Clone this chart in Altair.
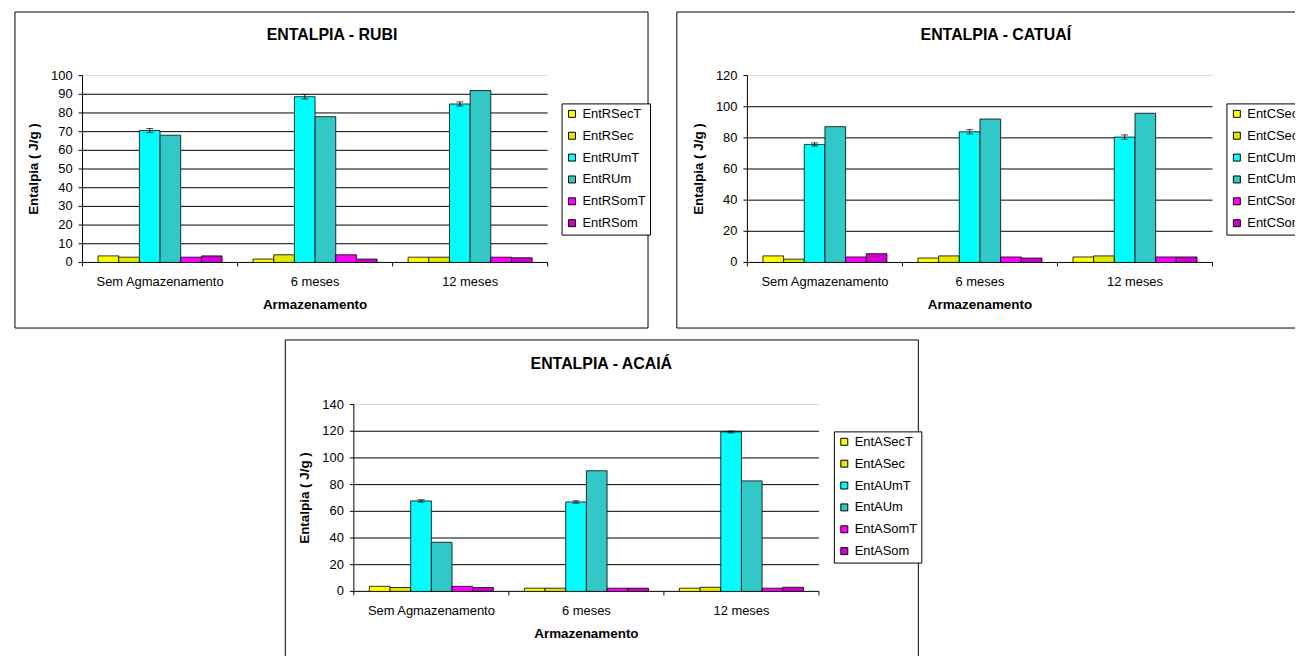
import altair as alt
import pandas as pd

FONT = "Liberation Sans"

categories = ["Sem Agmazenamento", "6 meses", "12 meses"]
x_title = "Armazenamento"
y_title = "Entalpia ( J/g )"

rubi_title = "ENTALPIA - RUBI"
rubi_series = ["EntRSecT", "EntRSec", "EntRUmT", "EntRUm", "EntRSomT", "EntRSom"]
rubi_sect = [3.5, 1.8, 2.8]
rubi_sec = [2.8, 4.1, 2.8]
rubi_umt = [70.6, 88.7, 84.8]
rubi_um = [68.1, 78.0, 92.0]
rubi_somt = [2.8, 4.1, 2.8]
rubi_som = [3.5, 1.8, 2.5]
rubi_err = [1.1, 1.2, 1.1]
rubi_ticks = [0, 10, 20, 30, 40, 50, 60, 70, 80, 90, 100]

catuai_title = "ENTALPIA - CATUAÍ"
catuai_series = ["EntCSecT", "EntCSec", "EntCUmT", "EntCUm", "EntCSomT", "EntCSom"]
catuai_sect = [4.2, 2.8, 3.5]
catuai_sec = [2.1, 4.2, 4.2]
catuai_umt = [75.8, 83.9, 80.5]
catuai_um = [87.2, 92.1, 95.8]
catuai_somt = [3.5, 3.5, 3.5]
catuai_som = [5.6, 2.8, 3.5]
catuai_err = [1.0, 1.4, 1.4]
catuai_ticks = [0, 20, 40, 60, 80, 100, 120]

acaia_title = "ENTALPIA - ACAIÁ"
acaia_series = ["EntASecT", "EntASec", "EntAUmT", "EntAUm", "EntASomT", "EntASom"]
acaia_sect = [3.8, 2.4, 2.4]
acaia_sec = [2.9, 2.4, 3.1]
acaia_umt = [67.8, 67.0, 119.5]
acaia_um = [36.8, 90.4, 82.8]
acaia_somt = [3.8, 2.4, 2.4]
acaia_som = [2.9, 2.4, 3.1]
acaia_err = [0.9, 0.9, 0.7]
acaia_ticks = [0, 20, 40, 60, 80, 100, 120, 140]

colors = ["#FFFF00", "#E6E600", "#00FFFF", "#33C8C8", "#FF00FF", "#D000D0"]

CW, CH = 1295, 648      # whole drawing (page minus 8px margin)
W, H = 468, 188         # each panel's plot area
STEP = W / 3


def panel(title, series, values, err, ticks, x0, y0, frame, title_xy, legend_xy):
    ymax = ticks[-1]
    rows = []
    for s, vals in zip(series, values):
        for c, v in zip(categories, vals):
            rows.append({"cat": c, "series": s, "value": v})
    df = pd.DataFrame(rows)
    umt = values[2]
    edf = pd.DataFrame({
        "cat": categories,
        "series": [series[2]] * 3,
        "lo": [v - e for v, e in zip(umt, err)],
        "hi": [v + e for v, e in zip(umt, err)],
    })
    gdf = pd.DataFrame({"tick": ticks})
    cdf = pd.DataFrame({"cat": categories})

    x_scale = alt.Scale(domain=categories, range=[x0, x0 + W], paddingInner=0.2, paddingOuter=0.1)
    xo_scale = alt.Scale(domain=series, range=[0, STEP * 0.8], paddingInner=0, paddingOuter=0)
    y_scale = alt.Scale(domain=[0, ymax], range=[y0 + H, y0], nice=False, zero=True)

    def X(**kw):
        return alt.X("cat:N", sort=categories, scale=x_scale, axis=None, **kw)

    def XO():
        return alt.XOffset("series:N", sort=series, scale=xo_scale)

    def Y(field):
        return alt.Y(field, scale=y_scale, axis=None)

    one = pd.DataFrame({"a": [0]})
    fx1, fx2, fy1, fy2 = frame
    frame_mark = alt.Chart(one).mark_rect(
        fill="white", stroke="black", strokeWidth=1
    ).encode(x=alt.value(fx1), x2=alt.value(fx2), y=alt.value(fy1), y2=alt.value(fy2))

    grid = alt.Chart(gdf).mark_rule(strokeWidth=1).encode(
        y=Y("tick:Q"),
        x=alt.value(x0), x2=alt.value(x0 + W),
        color=alt.condition(alt.datum.tick == ymax, alt.value("#d8d8d8"), alt.value("black")),
    )

    bars = alt.Chart(df).mark_bar(stroke="black", strokeWidth=0.8).encode(
        x=X(), xOffset=XO(), y=Y("value:Q"),
        color=alt.Color("series:N", sort=series,
                        scale=alt.Scale(domain=series, range=colors),
                        legend=alt.Legend(title=None, orient="none",
                                          legendX=legend_xy[0], legendY=legend_xy[1],
                                          strokeColor="black", fillColor="white",
                                          padding=4, rowPadding=8, symbolType="square",
                                          symbolSize=49, symbolStrokeColor="black",
                                          symbolStrokeWidth=1, symbolOpacity=1,
                                          labelFont=FONT, labelFontSize=13,
                                          labelColor="black", labelOffset=4,
                                          labelLimit=200, cornerRadius=0)),
    )

    rule = alt.Chart(edf).mark_rule(color="black", strokeWidth=1).encode(
        x=X(), xOffset=XO(), y=Y("lo:Q"), y2="hi:Q")
    cap_lo = alt.Chart(edf).mark_tick(color="black", size=7, thickness=1).encode(
        x=X(), xOffset=XO(), y=Y("lo:Q"))
    cap_hi = alt.Chart(edf).mark_tick(color="black", size=7, thickness=1).encode(
        x=X(), xOffset=XO(), y=Y("hi:Q"))

    # y axis: domain line, ticks, labels, title
    y_dom = alt.Chart(one).mark_rule(color="black", strokeWidth=1).encode(
        x=alt.value(x0), y=alt.value(y0), y2=alt.value(y0 + H))
    y_tk = alt.Chart(gdf).mark_rule(color="black", strokeWidth=1).encode(
        y=Y("tick:Q"), x=alt.value(x0 - 4), x2=alt.value(x0))
    y_lab = alt.Chart(gdf).mark_text(
        font=FONT, fontSize=13, color="black", align="right", baseline="middle"
    ).encode(y=Y("tick:Q"), x=alt.value(x0 - 10), text=alt.Text("tick:Q"))
    y_ttl = alt.Chart(pd.DataFrame({"t": [y_title]})).mark_text(
        font=FONT, fontSize=13.5, fontWeight="bold", color="black", angle=270,
        align="center", baseline="middle"
    ).encode(text="t:N", x=alt.value(x0 - 49), y=alt.value(y0 + H / 2))

    # x axis: ticks at band edges, labels, title
    x_tk = alt.Chart(cdf).mark_rule(color="black", strokeWidth=1, xOffset=-0.1 * STEP).encode(
        x=X(bandPosition=0), y=alt.value(y0 + H), y2=alt.value(y0 + H + 4))
    x_tk_end = alt.Chart(one).mark_rule(color="black", strokeWidth=1).encode(
        x=alt.value(x0 + W), y=alt.value(y0 + H), y2=alt.value(y0 + H + 4))
    x_lab = alt.Chart(cdf).mark_text(
        font=FONT, fontSize=13, color="black", align="center", baseline="middle"
    ).encode(x=X(), y=alt.value(y0 + H + 20), text="cat:N")
    x_ttl = alt.Chart(pd.DataFrame({"t": [x_title]})).mark_text(
        font=FONT, fontSize=13.5, fontWeight="bold", color="black",
        align="center", baseline="middle"
    ).encode(text="t:N", x=alt.value(x0 + W / 2), y=alt.value(y0 + H + 43))

    ttl = alt.Chart(pd.DataFrame({"t": [title]})).mark_text(
        font=FONT, fontSize=16, fontWeight="bold", align="center", baseline="alphabetic",
        color="black"
    ).encode(text="t:N", x=alt.value(title_xy[0]), y=alt.value(title_xy[1]))

    return alt.layer(frame_mark, grid, bars, rule, cap_lo, cap_hi,
                     y_dom, y_tk, y_lab, y_ttl, x_tk, x_tk_end, x_lab, x_ttl, ttl)


p1 = panel(rubi_title, rubi_series,
           [rubi_sect, rubi_sec, rubi_umt, rubi_um, rubi_somt, rubi_som],
           rubi_err, rubi_ticks, x0=75, y0=66,
           frame=(7, 644, 2, 320), title_xy=(326, 30), legend_xy=(557, 94))
p2 = panel(catuai_title, catuai_series,
           [catuai_sect, catuai_sec, catuai_umt, catuai_um, catuai_somt, catuai_som],
           catuai_err, catuai_ticks, x0=744, y0=66,
           frame=(673, 1330, 2, 320), title_xy=(994, 30), legend_xy=(1226, 94))
p3 = panel(acaia_title, acaia_series,
           [acaia_sect, acaia_sec, acaia_umt, acaia_um, acaia_somt, acaia_som],
           acaia_err, acaia_ticks, x0=348, y0=397,
           frame=(279, 916, 332, 670), title_xy=(597, 361), legend_xy=(831, 424))

chart = alt.layer(p1, p2, p3).resolve_scale(
    x="independent", y="independent", xOffset="independent", color="independent"
).properties(
    width=CW, height=CH, padding=0, background="white",
    autosize=alt.AutoSizeParams(type="none"),
).configure_view(stroke=None, strokeWidth=0)

chart.save("out.html", embed_options={"renderer": "svg", "actions": False})
